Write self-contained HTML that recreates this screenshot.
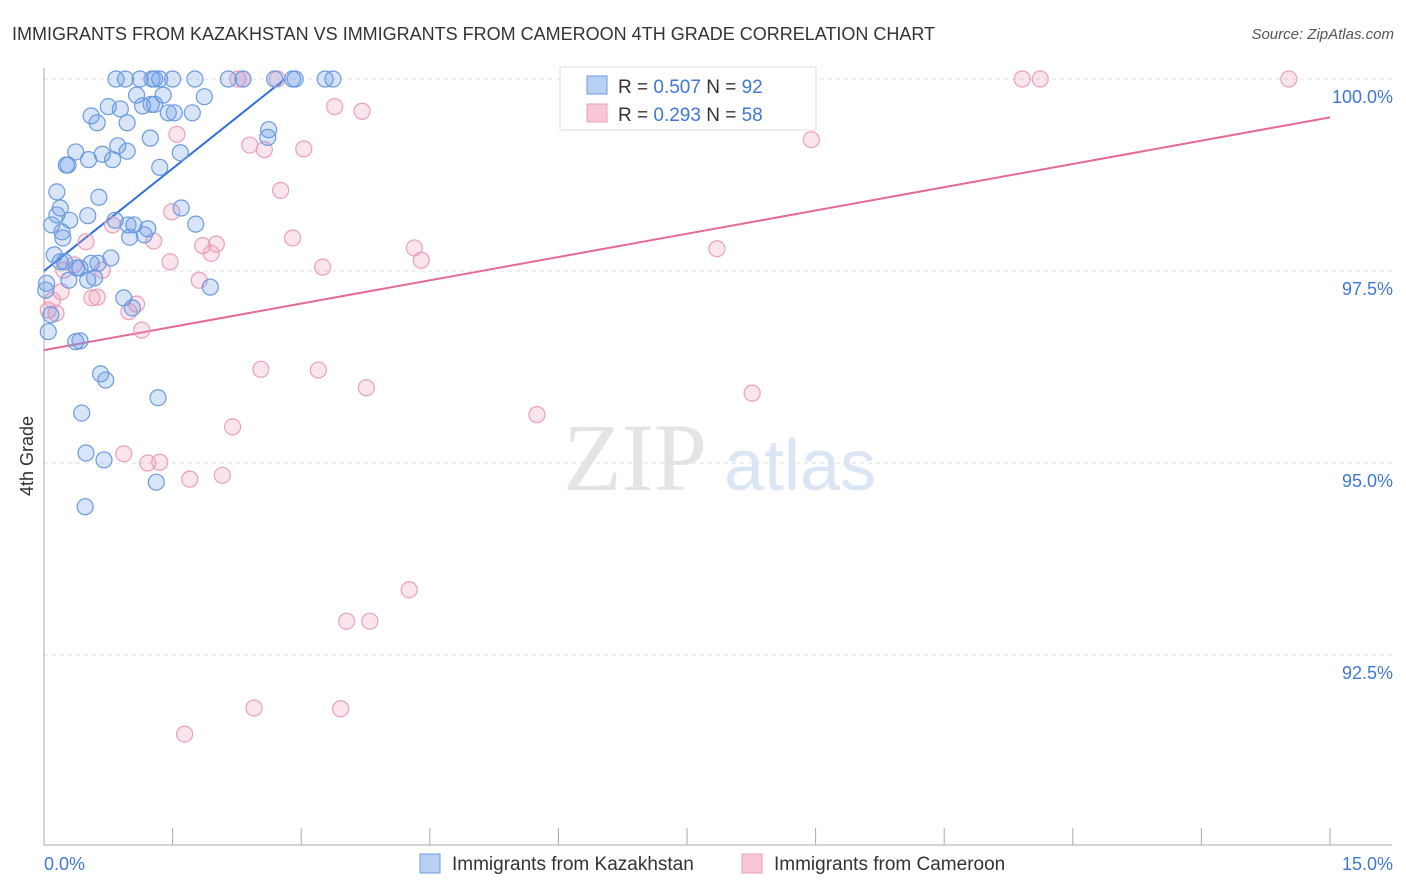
<!DOCTYPE html>
<html><head><meta charset="utf-8"><style>
body{margin:0;background:#fff;font-family:"Liberation Sans",sans-serif;}
svg{display:block}
</style></head><body>
<svg width="1406" height="892" xmlns="http://www.w3.org/2000/svg">
<text x="12" y="40" font-size="18" fill="#333">IMMIGRANTS FROM KAZAKHSTAN VS IMMIGRANTS FROM CAMEROON 4TH GRADE CORRELATION CHART</text>
<text x="1394" y="39" font-size="15" fill="#555" font-style="italic" text-anchor="end">Source: ZipAtlas.com</text>
<text x="33" y="456" font-size="18" fill="#333" transform="rotate(-90 33 456)" text-anchor="middle">4th Grade</text>
<g><text x="635" y="490" font-size="96" fill="#e4e4e4" font-family="Liberation Serif,serif" text-anchor="middle">ZIP</text><text x="800" y="490" font-size="72" fill="#dbe6f5" text-anchor="middle">atlas</text></g>
<g id="grid"></g><g id="axes"></g><g id="lines"></g><g id="pts"></g>
<g>
<rect x="560" y="67" width="256" height="63" fill="#fff" stroke="#ddd"/>
<rect x="587" y="76" width="20" height="18" fill="#b9d0f3" stroke="#6a9be0"/>
<rect x="587" y="104" width="20" height="18" fill="#f8c6d6" stroke="#eaa0bb"/>
<text x="618" y="93" font-size="19" fill="#333">R = <tspan fill="#3f78d3">0.507</tspan>    N = <tspan fill="#3f78d3">92</tspan></text>
<text x="618" y="121" font-size="19" fill="#333">R =  <tspan fill="#3f78d3">0.293</tspan>    N = <tspan fill="#3f78d3">58</tspan></text>
</g>
<g>
<rect x="420" y="854" width="20" height="19" fill="#b9d0f3" stroke="#6a9be0"/>
<text x="452" y="870" font-size="19" fill="#333">Immigrants from Kazakhstan</text>
<rect x="742" y="854" width="20" height="19" fill="#f8c6d6" stroke="#eaa0bb"/>
<text x="774" y="870" font-size="19" fill="#333">Immigrants from Cameroon</text>
</g>
</svg>
<script>
const xTicks=[0,1.5,3,4.5,6,7.5,9,10.5,12,13.5,15];
const yTicks=[100,97.5,95,92.5];
const yTickLabels=["100.0%","97.5%","95.0%","92.5%"];
const xEndLabels=["0.0%","15.0%"];
const blueX=[0.84,0.95,1.12,1.29,1.35,1.50,1.76,2.15,2.32,2.69,2.90,2.93,3.28,3.37,1.26,1.08,1.39,1.87,0.75,0.89,1.15,1.25,1.29,1.45,1.73,1.52,0.55,0.62,0.97,2.62,2.61,1.24,0.86,0.97,0.37,0.68,1.59,0.52,0.80,0.26,0.28,1.35,0.15,0.64,0.19,1.60,0.15,0.51,0.30,0.09,0.83,0.98,1.05,1.21,1.77,0.21,0.22,1.17,1.00,0.12,0.24,0.78,0.55,0.63,0.38,0.42,0.03,0.29,0.51,1.94,0.93,1.03,0.08,0.05,0.37,0.42,0.66,0.72,1.33,0.44,0.49,0.70,1.31,0.48,0.02,0.19,0.59];
const blueY=[100,100,100,100,100,100,100,100,100,100,100,100,100,100,100,99.79,99.79,99.77,99.64,99.61,99.65,99.67,99.67,99.56,99.56,99.56,99.52,99.43,99.43,99.34,99.24,99.23,99.13,99.06,99.05,99.02,99.04,98.95,98.95,98.88,98.88,98.85,98.53,98.46,98.32,98.32,98.23,98.22,98.16,98.10,98.16,98.10,98.10,98.05,98.11,98.01,97.93,97.97,97.94,97.71,97.62,97.67,97.60,97.60,97.54,97.54,97.34,97.38,97.38,97.29,97.15,97.02,96.93,96.71,96.58,96.59,96.16,96.08,95.85,95.65,95.13,95.04,94.75,94.43,97.25,97.62,97.41];
const pinkX=[2.26,2.32,2.72,8.64,11.41,11.62,14.52,3.39,3.71,1.55,2.40,2.57,3.03,8.95,2.76,1.49,0.49,0.80,1.28,2.90,1.85,2.01,1.95,4.32,4.40,7.85,1.47,3.25,0.23,0.35,0.68,1.81,0.20,0.62,0.56,1.08,0.99,0.05,0.10,1.14,2.53,3.20,3.76,8.26,5.75,2.20,0.93,1.21,1.35,1.70,2.08,4.26,3.53,3.80,2.45,3.46,1.64,0.14];
const pinkY=[100,100,100,100,100,100,100,99.64,99.58,99.28,99.14,99.08,99.09,99.21,98.55,98.27,97.88,98.10,97.89,97.93,97.83,97.85,97.73,97.80,97.64,97.79,97.62,97.55,97.51,97.58,97.51,97.38,97.23,97.16,97.15,97.07,96.97,96.99,97.12,96.73,96.22,96.21,95.98,95.91,95.63,95.47,95.12,95.00,95.01,94.79,94.84,93.35,92.94,92.94,91.81,91.80,91.47,96.95];
const blueFit=[0,97.5,2.81,100];
const pinkFit=[0,96.47,15,99.5];
const NS="http://www.w3.org/2000/svg";
const X=v=>44+v/15*1286, Y=v=>79+(100-v)*76.8;
function mk(p,t,a){const e=document.createElementNS(NS,t);for(const k in a)e.setAttribute(k,a[k]);document.getElementById(p).appendChild(e);return e;}
yTicks.forEach((t,i)=>{
 const l=mk('grid','line',{x1:44,x2:1392,y1:Y(t),y2:Y(t),stroke:'#ddd','stroke-dasharray':'4,4'});
 
 
 const tx=mk('grid','text',{x:1393,y:Y(t)+24,'font-size':18,fill:'#3f78d3','text-anchor':'end'});
 tx.textContent=yTickLabels[i];
 
 
});
const ya=mk('axes','line',{x1:44,x2:44,y1:68,y2:845,stroke:'#aaa'});


const xa=mk('axes','line',{x1:44,x2:1392,y1:845,y2:845,stroke:'#aaa'});


xTicks.forEach(t=>{
 const l=mk('axes','line',{x1:X(t),x2:X(t),y1:828,y2:845,stroke:'#aaa'});
 
 
});
[[0,'start',44],[1,'end',1393]].forEach(([i,a,x])=>{
 const t=mk('axes','text',{x:x,y:870,'font-size':18,fill:'#3f78d3','text-anchor':a});
 t.textContent=xEndLabels[i];
 
 
});
function pts(xs,ys,fill,stroke,name){xs.forEach((x,i)=>{
 const c=mk('pts','circle',{cx:X(x),cy:Y(ys[i]),r:8,fill:fill,stroke:stroke,'stroke-width':1.2});
 
 
});}
pts(pinkX,pinkY,'rgba(240,150,180,0.25)','#eaa0bb','cameroon-point');
pts(blueX,blueY,'rgba(100,150,230,0.25)','#6a9be0','kazakhstan-point');
const bl=mk('lines','line',{x1:X(blueFit[0]),y1:Y(blueFit[1]),x2:X(blueFit[2]),y2:Y(blueFit[3]),stroke:'#2f6fd6','stroke-width':2});


const pl=mk('lines','line',{x1:X(pinkFit[0]),y1:Y(pinkFit[1]),x2:X(pinkFit[2]),y2:Y(pinkFit[3]),stroke:'#e56a98','stroke-width':2});


document.getElementById('svg')||0;
</script>
</body></html>
